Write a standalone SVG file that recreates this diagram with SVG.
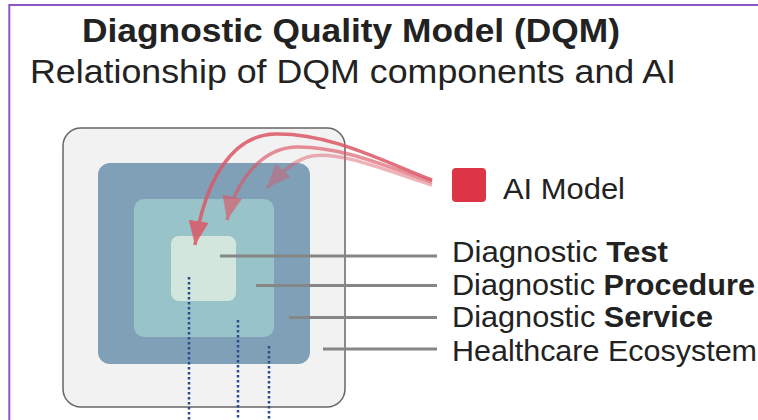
<svg xmlns="http://www.w3.org/2000/svg" width="758" height="420" viewBox="0 0 758 420">
<style>
.t{font-family:"Liberation Sans",Arial,sans-serif;fill:#222}
.lead{stroke:#868686;stroke-width:3;fill:none}
.dot{stroke:#2b4c8c;stroke-width:2.5;stroke-dasharray:2.5 2.5;fill:none}
.arc{fill:none;stroke:#dc5766;stroke-width:3.5}
</style>
<defs>
<marker id="ah" markerUnits="userSpaceOnUse" markerWidth="26" markerHeight="20" refX="24" refY="10" orient="auto">
<path d="M0,0 L24,10 L0,20 z" fill="#dc5766"/>
</marker>
</defs>
<rect x="9.3" y="5" width="760" height="430" fill="#fff" stroke="#8e55c8" stroke-width="2"/>
<g id="title">
<text class="t" x="82" y="42" font-size="34" font-weight="bold" textLength="538" lengthAdjust="spacingAndGlyphs">Diagnostic Quality Model (DQM)</text>
<text class="t" x="30" y="83" font-size="34" textLength="646" lengthAdjust="spacingAndGlyphs">Relationship of DQM components and AI</text>
</g>
<g id="healthcare-ecosystem"><rect x="63" y="128" width="282" height="279" rx="18" fill="#f2f2f2" stroke="#666" stroke-width="1.5"/></g>
<g id="diagnostic-service"><rect x="98" y="163" width="212" height="201" rx="12" fill="#7fa0b7"/></g>
<g id="diagnostic-procedure"><rect x="134" y="199" width="140" height="138" rx="10" fill="#98c3c9"/></g>
<g id="diagnostic-test"><rect x="171" y="236" width="65" height="65" rx="8" fill="#d3e6dd"/></g>
<g id="ai-model">
<rect x="452" y="168" width="34" height="34" rx="4" fill="#dc3545"/>
<text class="t" x="503" y="199" font-size="29" textLength="122" lengthAdjust="spacingAndGlyphs">AI Model</text>
</g>
<g id="labels">
<text class="t" x="452" y="262" font-size="29" textLength="216" lengthAdjust="spacingAndGlyphs">Diagnostic <tspan font-weight="bold">Test</tspan></text>
<text class="t" x="452" y="295" font-size="29" textLength="303" lengthAdjust="spacingAndGlyphs">Diagnostic <tspan font-weight="bold">Procedure</tspan></text>
<text class="t" x="452" y="327" font-size="29" textLength="261" lengthAdjust="spacingAndGlyphs">Diagnostic <tspan font-weight="bold">Service</tspan></text>
<text class="t" x="452" y="361" font-size="29" textLength="305" lengthAdjust="spacingAndGlyphs">Healthcare Ecosystem</text>
</g>
<g id="connectors">
<line class="lead" x1="220" y1="256" x2="437" y2="256"/>
<line class="lead" x1="256" y1="285.5" x2="437" y2="285.5"/>
<line class="lead" x1="289" y1="317.5" x2="437" y2="317.5"/>
<line class="lead" x1="323" y1="349" x2="437" y2="349"/>
<line class="dot" x1="189" y1="277" x2="189" y2="420"/>
<line class="dot" x1="238" y1="320" x2="238" y2="420"/>
<line class="dot" x1="269" y1="346" x2="269" y2="420"/>
<g opacity="0.85"><path class="arc" marker-end="url(#ah)" d="M432,180 C380,160 330,133 275,134 C232,135 205,180 195,245"/></g>
<g opacity="0.65"><path class="arc" marker-end="url(#ah)" d="M432,182 C385,166 340,146 296,147 C262,148 236,180 227,220"/></g>
<g opacity="0.45"><path class="arc" marker-end="url(#ah)" d="M432,185 C390,172 342,151 312,156 C296,159 282,171 267,188"/></g>
</g>
</svg>
